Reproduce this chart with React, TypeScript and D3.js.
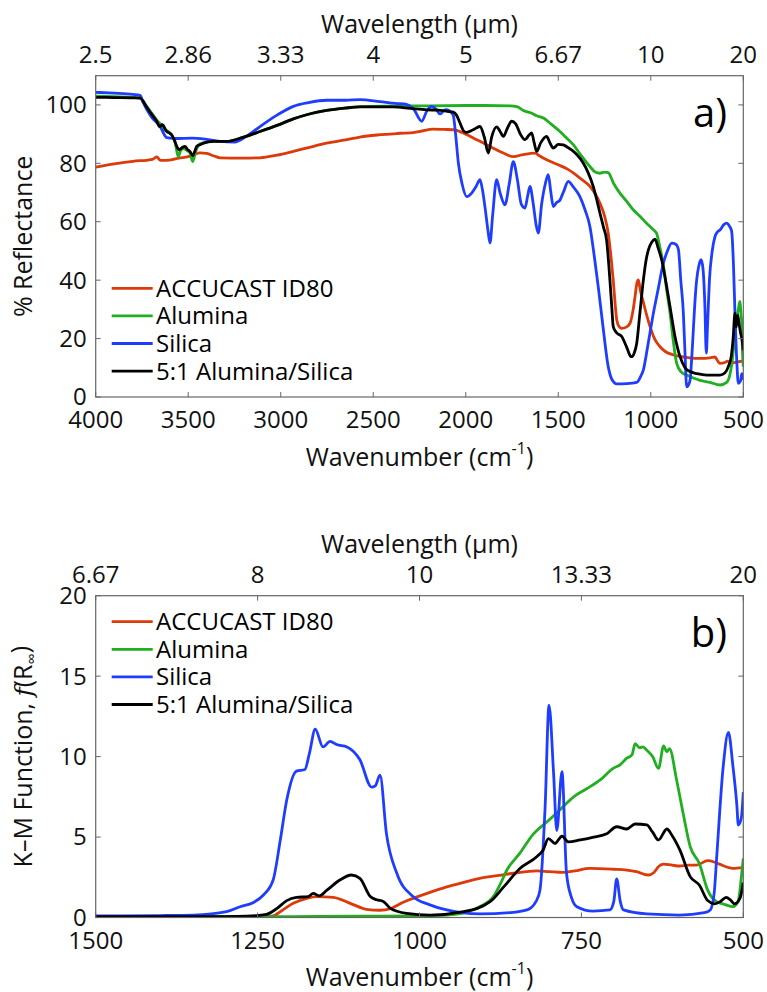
import React from 'react';
import * as d3 from 'd3';

const W = 767;
const H = 992;
const FONT = "'Open Sans', 'Noto Sans', sans-serif";

const seriesNames = ['ACCUCAST ID80', 'Alumina', 'Silica', '5:1 Alumina/Silica'];
const seriesColors = ['#dd3a0a', '#1faf1f', '#1f3dff', '#000000'];

// Panel a) — % Reflectance vs wavenumber
const aTicksX = [4000, 3500, 3000, 2500, 2000, 1500, 1000, 500];
const aTopLabels = ['2.5', '2.86', '3.33', '4', '5', '6.67', '10', '20'];
const aTicksY = [0, 20, 40, 60, 80, 100];

const aAccucast: [number, number][] = [[4000,78.7],[3900,79.8],[3800,80.7],[3700,81.3],[3689,81.5],[3670,82.2],[3650,81],[3600,81.1],[3550,81.8],[3500,82.3],[3473,82.9],[3436,83.6],[3400,83.4],[3360,82.5],[3328,81.9],[3200,81.8],[3112,81.9],[3020,82.8],[2932,84.1],[2850,85.4],[2752,86.9],[2650,88],[2572,89],[2480,89.7],[2392,90.1],[2356,90.3],[2300,90.4],[2247,90.9],[2175,91.7],[2120,91.6],[2067,91.5],[2000,90],[1941,88.1],[1900,86.8],[1851,85.2],[1800,83.6],[1743,82.3],[1690,83],[1626,83.5],[1600,82.5],[1563,81.2],[1500,79.5],[1450,78],[1419,76.7],[1380,74.8],[1329,72.1],[1300,69.5],[1275,66.4],[1250,62],[1230,56.1],[1215,48],[1203,40.1],[1190,30],[1184,26.4],[1170,24],[1157,23.5],[1130,24],[1112,25.3],[1095,30],[1085,34.4],[1075,39],[1067,40.1],[1058,37],[1040,32.4],[1020,27.5],[1004,24.1],[980,20],[950,17.2],[920,15.5],[878,14.4],[800,13.5],[734,13.2],[680,13.4],[653,13.7],[640,12.5],[626,11.5],[600,11.8],[585,12.3],[570,11.6],[550,11.8],[500,12.4]];

const aAlumina: [number, number][] = [[4000,103],[3900,102.8],[3800,102.6],[3760,102.3],[3724,99.5],[3690,96.5],[3670,94.8],[3645,93],[3630,91.5],[3616,91.2],[3600,90.5],[3589,89.7],[3570,87],[3554,82.3],[3540,84.5],[3525,85],[3510,84.5],[3490,83.5],[3476,80.6],[3460,84],[3440,86.5],[3418,87],[3364,87.5],[3292,87.5],[3200,89],[3112,90.9],[3020,93],[2932,95.2],[2850,96.8],[2752,98.1],[2650,99],[2572,99.4],[2400,99.6],[2200,99.7],[2000,99.8],[1900,99.8],[1761,99.7],[1720,99.3],[1689,98.1],[1650,97.3],[1617,96.3],[1580,95.5],[1540,93.5],[1491,90.9],[1460,89],[1419,86.4],[1380,83],[1329,78.9],[1300,77],[1275,76.6],[1250,77],[1230,76.8],[1200,73],[1167,69.8],[1130,67],[1095,64.1],[1060,62],[1023,59.5],[990,57.5],[969,56.1],[950,51],[932,45.3],[915,37],[896,28.7],[878,19],[860,11.5],[835,8.5],[806,7.5],[770,6.5],[734,5.7],[680,5],[626,4.1],[590,5],[572,7.8],[555,15],[545,22],[536,26.4],[527,30],[518,32.7],[512,28],[508,25],[504,15],[500,10.4]];

const aSilica: [number, number][] = [[4000,104.3],[3900,104],[3800,103.6],[3760,103.3],[3745,101],[3700,96],[3652,92.6],[3616,88.8],[3560,88.5],[3480,88.6],[3418,88.4],[3328,87.5],[3250,87.3],[3180,89.5],[3112,92.6],[3020,96.5],[2932,99.5],[2850,100.8],[2752,101.6],[2650,101.6],[2572,101.8],[2464,101.1],[2380,100.5],[2320,100.2],[2284,98.8],[2238,94.4],[2210,98],[2184,99.5],[2160,98.5],[2139,96.9],[2120,98],[2103,98.4],[2080,97.5],[2067,96.3],[2055,90],[2040,80.1],[2020,73],[1995,68.6],[1968,69.8],[1945,72],[1923,74.4],[1910,71],[1896,65],[1880,57],[1869,52.7],[1855,62],[1833,74.4],[1815,70],[1788,65.8],[1765,73],[1743,80.6],[1720,74],[1700,66],[1680,64.7],[1665,69],[1653,72.1],[1635,66],[1620,59],[1608,56.1],[1590,66],[1570,73],[1554,76.1],[1540,70],[1527,65.2],[1510,66.5],[1491,67.4],[1470,70.5],[1446,73.8],[1420,72],[1383,68.6],[1355,64],[1329,58.4],[1305,48],[1284,37.8],[1260,25],[1230,10.4],[1210,6],[1184,4.5],[1130,4.6],[1076,5],[1055,7],[1040,9.3],[1015,18],[986,28.7],[960,37],[932,45.8],[910,50],[887,52.7],[865,52.3],[851,50.6],[838,40],[824,28.7],[815,15],[806,3.5],[797,4],[787,6],[780,12],[773,19.5],[762,32],[752,40.1],[740,45],[728,47],[718,44],[708,32],[700,15],[693,25],[683,40],[668,50],[653,54.9],[640,56.5],[626,57.2],[605,59],[590,59.5],[575,58.5],[563,56.8],[553,45],[545,28.7],[535,12],[527,4.7],[515,5.5],[508,8],[500,5.9]];

const aMix: [number, number][] = [[4000,102.6],[3900,102.5],[3800,102.4],[3760,102.3],[3724,99.2],[3700,97],[3670,94.4],[3655,92.6],[3640,93.2],[3616,90.9],[3600,90.3],[3589,89.7],[3575,88],[3562,85.8],[3550,84.6],[3540,85],[3530,85.5],[3517,85.8],[3505,84.8],[3490,84],[3476,82.6],[3465,84],[3454,85.8],[3430,86.5],[3418,86.9],[3364,87.5],[3292,87.5],[3200,89],[3112,90.9],[3020,93],[2932,95.2],[2850,96.8],[2752,98.1],[2650,98.9],[2572,99.3],[2392,99.3],[2300,98.8],[2211,98.3],[2150,98.2],[2100,97.8],[2067,97.5],[2050,96.5],[2031,93.8],[2010,91],[1995,90.6],[1960,91.5],[1923,92.6],[1900,89],[1878,83.5],[1860,89],[1833,92.5],[1815,91],[1797,89.2],[1775,92],[1752,94.4],[1730,93.5],[1705,90],[1680,88.1],[1660,89.5],[1644,90.4],[1630,87],[1617,84.1],[1595,87],[1563,89.2],[1545,87],[1527,85.2],[1500,86.5],[1473,86.3],[1450,85.5],[1428,84.6],[1400,83],[1365,80.1],[1340,77],[1311,72.1],[1290,67],[1275,63],[1255,58],[1239,53.8],[1221,40.1],[1210,30],[1203,24.1],[1185,22],[1157,20.7],[1130,17],[1110,14],[1103,13.8],[1090,15],[1076,18.4],[1060,28],[1040,40.1],[1025,47],[1013,50.4],[995,53],[977,54],[960,51],[941,46.9],[920,40],[896,30.9],[870,21],[842,13.8],[815,10],[788,8.7],[750,8],[698,7.5],[626,7.5],[600,8.2],[581,10.4],[565,14],[555,20],[545,28.7],[538,24],[530,28],[525,26],[515,22],[508,20],[500,16]];

// Panel b) — K-M function vs wavenumber
const bTicksX = [1500, 1250, 1000, 750, 500];
const bTopLabels = ['6.67', '8', '10', '13.33', '20'];
const bTicksY = [0, 5, 10, 15, 20];

const bAccucast: [number, number][] = [[1500,0.02],[1400,0.02],[1300,0.03],[1240,0.05],[1226,0.1],[1215,0.36],[1195,0.88],[1174,1.19],[1159,1.3],[1133,1.25],[1107,0.88],[1082,0.51],[1061,0.45],[1045,0.55],[1025,0.95],[1010,1.19],[985,1.55],[958,1.9],[930,2.2],[907,2.43],[880,2.6],[855,2.75],[819,2.9],[800,2.85],[778,2.8],[760,2.9],[737,3.05],[701,3.0],[680,2.95],[665,2.85],[647,2.64],[638,2.8],[630,3.2],[623,3.32],[610,3.25],[598,3.2],[585,3.25],[572,3.26],[555,3.53],[545,3.45],[537,3.32],[516,3.05],[500,3.1]];

const bAlumina: [number, number][] = [[1500,0.05],[1300,0.05],[1200,0.06],[1100,0.08],[1000,0.1],[958,0.15],[930,0.3],[907,0.67],[886,1.3],[875,2.1],[865,2.95],[845,4],[824,5.2],[803,5.95],[783,6.7],[762,7.5],[742,8.0],[721,8.55],[701,9.27],[690,9.5],[680,9.9],[672,10.1],[667,10.8],[660,10.55],[655,10.6],[649,10.4],[640,10.0],[631,9.27],[623,10.66],[618,10.3],[614,10.5],[603,8.55],[593,6.5],[582,4.4],[568,3.37],[555,1.7],[542,1.0],[528,0.8],[516,0.67],[508,1.0],[503,2.5],[500,3.68]];

const bSilica: [number, number][] = [[1500,0.1],[1400,0.12],[1349,0.15],[1298,0.36],[1277,0.67],[1257,0.92],[1241,1.4],[1226,2.33],[1215,4.8],[1205,7.3],[1190,9.1],[1177,9.2],[1170,10.2],[1161,11.7],[1149,10.6],[1138,10.95],[1128,10.75],[1112,10.6],[1092,9.8],[1074,8.1],[1068,8.2],[1061,8.85],[1051,5.2],[1035,2.75],[1010,1.3],[985,0.8],[958,0.47],[907,0.22],[860,0.3],[834,0.47],[820,1.0],[814,1.7],[806,6.9],[800,13.2],[793,9],[788,5.4],[780,9.06],[773,2.75],[765,1.2],[757,0.67],[732,0.4],[706,0.47],[700,1.0],[695.5,2.4],[690,1.0],[685,0.47],[649,0.22],[598,0.15],[560,0.3],[551,0.47],[545,1.5],[541,3.8],[531,9.4],[523,11.5],[516,9.4],[510,7.0],[507.7,5.75],[503,6.2],[500,7.8]];

const bMix: [number, number][] = [[1500,0.05],[1300,0.05],[1267,0.08],[1236,0.2],[1220,0.57],[1205,1.05],[1190,1.25],[1172,1.3],[1164,1.5],[1155,1.35],[1143,1.7],[1123,2.33],[1105,2.64],[1092,2.43],[1076,1.3],[1066,1.1],[1056,1.0],[1045,0.57],[1020,0.26],[984,0.15],[932,0.36],[891,0.98],[870,1.9],[845,3.05],[819,3.78],[809,4.2],[801,4.9],[790.7,4.6],[780,5.05],[770,4.7],[752,4.82],[731,5.0],[711,5.2],[695.5,5.64],[680,5.5],[667,5.81],[649,5.75],[640,5.3],[631,4.82],[618,5.5],[610,5.1],[598,4.2],[582,2.54],[568,2.02],[555,1.05],[544.5,0.85],[535,1.0],[526.5,1.25],[520,1.1],[513.6,0.85],[505,1.2],[500,2.17]];

const aSeries = [aAccucast, aAlumina, aSilica, aMix];
const bSeries = [bAccucast, bAlumina, bSilica, bMix];

const LEFT = 95.7;
const RIGHT = 743.3;
const FRAME = '#666';
const TXT = '#111';
const TICK = 5;
const LW = 2.8;

type PanelProps = {
  top: number;
  bottom: number;
  xDomain: [number, number];
  yDomain: [number, number];
  xTicks: number[];
  topLabels: string[];
  yTicks: number[];
  series: [number, number][][];
  yTitle: React.ReactNode;
  tag: string;
  legendY: number;
};

function Panel(p: PanelProps) {
  const x = d3.scaleLinear().domain(p.xDomain).range([LEFT, RIGHT]);
  const y = d3.scaleLinear().domain(p.yDomain).range([p.bottom, p.top]);
  const line = d3
    .line<[number, number]>()
    .x((d) => x(d[0]))
    .y((d) => y(Math.max(p.yDomain[0], d[1])))
    .curve(d3.curveMonotoneX);
  const midY = (p.top + p.bottom) / 2;
  const midX = (LEFT + RIGHT) / 2;
  const clipId = 'clip' + p.tag.replace(')', '');
  return (
    <g>
      <defs>
        <clipPath id={clipId}>
          <rect x={LEFT} y={p.top} width={RIGHT - LEFT} height={p.bottom - p.top} />
        </clipPath>
      </defs>
      <g clipPath={`url(#${clipId})`}>
        {p.series.map((s, i) => (
          <path key={i} d={line(s) || ''} fill="none" stroke={seriesColors[i]} strokeWidth={LW} strokeLinejoin="round" />
        ))}
      </g>
      <rect x={LEFT} y={p.top} width={RIGHT - LEFT} height={p.bottom - p.top} fill="none" stroke={FRAME} strokeWidth={1.2} />
      {p.xTicks.map((t, i) => (
        <g key={'xt' + i}>
          <line x1={x(t)} x2={x(t)} y1={p.bottom} y2={p.bottom - TICK} stroke={FRAME} strokeWidth={1} />
          <line x1={x(t)} x2={x(t)} y1={p.top} y2={p.top + TICK} stroke={FRAME} strokeWidth={1} />
          <text x={x(t)} y={p.bottom + 23} dy="0.35em" textAnchor="middle" fontSize={24} fill={TXT}>
            {t}
          </text>
          <text x={x(t)} y={p.top - 21} dy="0.35em" textAnchor="middle" fontSize={24} fill={TXT}>
            {p.topLabels[i]}
          </text>
        </g>
      ))}
      {p.yTicks.map((t, i) => (
        <g key={'yt' + i}>
          <line x1={LEFT} x2={LEFT + TICK} y1={y(t)} y2={y(t)} stroke={FRAME} strokeWidth={1} />
          <line x1={RIGHT} x2={RIGHT - TICK} y1={y(t)} y2={y(t)} stroke={FRAME} strokeWidth={1} />
          <text x={LEFT - 9} y={y(t)} dy="0.35em" textAnchor="end" fontSize={24} fill={TXT}>
            {t}
          </text>
        </g>
      ))}
      <text x={midX} y={p.top - 51} dy="0.35em" textAnchor="middle" fontSize={25} fill={TXT}>
        Wavelength (µm)
      </text>
      <text x={midX} y={p.bottom + 60} dy="0.35em" textAnchor="middle" fontSize={25} fill={TXT}>
        Wavenumber (cm
        <tspan fontSize={16} dy="-0.75em">-1</tspan>
        <tspan dy="0.45em">)</tspan>
      </text>
      <text transform={`translate(23,${midY}) rotate(-90)`} dy="0.35em" textAnchor="middle" fontSize={25} fill={TXT}>
        {p.yTitle}
      </text>
      <text x={727} y={p.top + 37} dy="0.35em" textAnchor="end" fontSize={40} fill="#000">
        {p.tag}
      </text>
      {seriesNames.map((n, i) => (
        <g key={'lg' + i}>
          <line x1={111.7} x2={152.7} y1={p.legendY + i * 27.6} y2={p.legendY + i * 27.6} stroke={seriesColors[i]} strokeWidth={LW} />
          <text x={156} y={p.legendY + i * 27.6} dy="0.35em" fontSize={24} fill="#000">
            {n}
          </text>
        </g>
      ))}
    </g>
  );
}

export default function App() {
  return (
    <svg
      width={W}
      height={H}
      viewBox={`0 0 ${W} ${H}`}
      style={{ position: 'absolute', left: 0, top: 0, background: '#fff', fontFamily: FONT }}
    >
      <rect x={0} y={0} width={W} height={H} fill="#fff" />
      <Panel
        top={75.7}
        bottom={397}
        xDomain={[4000, 500]}
        yDomain={[0, 110]}
        xTicks={aTicksX}
        topLabels={aTopLabels}
        yTicks={aTicksY}
        series={aSeries}
        yTitle={'% Reflectance'}
        tag="a)"
        legendY={288.3}
      />
      <Panel
        top={595.7}
        bottom={917.5}
        xDomain={[1500, 500]}
        yDomain={[0, 20]}
        xTicks={bTicksX}
        topLabels={bTopLabels}
        yTicks={bTicksY}
        series={bSeries}
        yTitle={
          <>
            K–M Function, <tspan fontStyle="italic" fontFamily="'DejaVu Serif', serif">f</tspan>(R
            <tspan fontSize={16} dy="0.35em">∞</tspan>
            <tspan dy="-0.35em">)</tspan>
          </>
        }
        tag="b)"
        legendY={621.7}
      />
    </svg>
  );
}
